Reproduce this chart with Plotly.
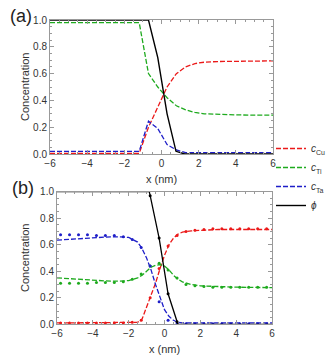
import plotly.graph_objects as go

# panel (a) simulated profiles
xa = [-6, -1.2, -0.7, -0.2, 0.3, 0.8, 1.3, 1.8, 2.3, 3.0, 4.0, 5.0, 6]
cu_a = [0.005, 0.005, 0.2, 0.35, 0.5, 0.6, 0.65, 0.675, 0.685, 0.69, 0.693, 0.695, 0.695]
ti_a = [0.98, 0.98, 0.6, 0.5, 0.42, 0.36, 0.33, 0.31, 0.3, 0.295, 0.292, 0.29, 0.29]
ta_a = [0.02, 0.02, 0.245, 0.19, 0.07, 0.03, 0.01, 0.01, 0.01, 0.01, 0.01, 0.01, 0.01]
xa_phi = [-6, -0.7, -0.2, 0.3, 0.78, 1.25, 6]
phi_a = [1, 1, 0.72, 0.3, 0.02, 0, 0]

# panel (b) fitted curves
xb = [-6, -5, -4, -3, -2.5, -2, -1.5, -1.25, -1, -0.75, -0.5, -0.25, 0,
      0.25, 0.5, 0.75, 1, 1.5, 2, 3, 4, 5, 6]
cu_b = [0.01, 0.01, 0.01, 0.01, 0.01, 0.01, 0.015, 0.04, 0.13, 0.22, 0.31, 0.42, 0.52,
        0.6, 0.65, 0.68, 0.695, 0.705, 0.71, 0.715, 0.715, 0.715, 0.715]
ti_b = [0.35, 0.34, 0.33, 0.325, 0.325, 0.33, 0.35, 0.37, 0.4, 0.43, 0.445, 0.45, 0.44,
        0.41, 0.37, 0.34, 0.32, 0.3, 0.29, 0.283, 0.28, 0.278, 0.277]
ta_b = [0.635, 0.645, 0.655, 0.66, 0.66, 0.655, 0.62, 0.57, 0.5, 0.41, 0.3, 0.2, 0.11,
        0.06, 0.03, 0.015, 0.01, 0.01, 0.01, 0.01, 0.01, 0.01, 0.01]

# panel (b) measured points
xd = [-5.8, -5.3, -4.8, -4.3, -3.8, -3.3, -2.8, -2.3, -1.8, -1.3, -0.8, -0.3,
      0.2, 0.7, 1.2, 1.7, 2.2, 2.7, 3.2, 3.7, 4.2, 4.7, 5.2, 5.7]
cu_d = [0.01, 0.01, 0.01, 0.01, 0.01, 0.01, 0.01, 0.01, 0.015, 0.03, 0.2, 0.42,
        0.59, 0.67, 0.7, 0.71, 0.715, 0.72, 0.72, 0.72, 0.72, 0.72, 0.72, 0.72]
ti_d = [0.31, 0.31, 0.31, 0.31, 0.315, 0.315, 0.315, 0.32, 0.34, 0.38, 0.44, 0.46,
        0.41, 0.35, 0.3, 0.29, 0.285, 0.28, 0.28, 0.28, 0.28, 0.28, 0.28, 0.28]
ta_d = [0.675, 0.675, 0.675, 0.675, 0.67, 0.67, 0.67, 0.66, 0.64, 0.58, 0.44, 0.17,
        0.03, 0.01, 0.005, 0.005, 0.005, 0.005, 0.005, 0.005, 0.005, 0.005, 0.005, 0.005]
xb_phi = [-6, -0.85, -0.8, -0.3, 0.2, 0.7, 0.75, 6]
phi_b = [1, 1, 0.97, 0.65, 0.23, 0.02, 0, 0]
xd_phi = [-0.8, -0.3, 0.2, 0.7]
phi_d = [0.97, 0.65, 0.23, 0.02]

RED = "rgb(235,25,25)"
GREEN = "rgb(30,170,30)"
BLUE = "rgb(30,30,200)"
DASH = "5px,2px"

fig = go.Figure()

names = ["<i>c</i><sub>Cu</sub>", "<i>c</i><sub>Ti</sub>", "<i>c</i><sub>Ta</sub>"]
for ys, col, nm in zip([cu_a, ti_a, ta_a], [RED, GREEN, BLUE], names):
    fig.add_trace(go.Scatter(x=xa, y=ys, mode="lines", name=nm,
                             line=dict(color=col, width=1.3, dash=DASH),
                             xaxis="x", yaxis="y"))
fig.add_trace(go.Scatter(x=xa_phi, y=phi_a, mode="lines", name="<i>ϕ</i>",
                         line=dict(color="black", width=1.4), xaxis="x", yaxis="y"))

for ys, col in zip([cu_b, ti_b, ta_b], [RED, GREEN, BLUE]):
    fig.add_trace(go.Scatter(x=xb, y=ys, mode="lines", showlegend=False,
                             line=dict(color=col, width=1.3, dash=DASH),
                             xaxis="x2", yaxis="y2"))
for ys, col in zip([cu_d, ti_d, ta_d], [RED, GREEN, BLUE]):
    fig.add_trace(go.Scatter(x=xd, y=ys, mode="markers", showlegend=False,
                             marker=dict(color=col, size=3),
                             xaxis="x2", yaxis="y2"))
fig.add_trace(go.Scatter(x=xb_phi, y=phi_b, mode="lines", showlegend=False,
                         line=dict(color="black", width=1.3), xaxis="x2", yaxis="y2"))
fig.add_trace(go.Scatter(x=xd_phi, y=phi_d, mode="markers", showlegend=False,
                         marker=dict(color="black", size=3), xaxis="x2", yaxis="y2"))

W, H = 331, 359
FONT = "Arial, Liberation Sans, sans-serif"

def xax(dom, anchor):
    return dict(domain=dom, anchor=anchor, range=[-6, 6], dtick=2, tickformat="d",
                showgrid=False, zeroline=False, showline=True, linecolor="#999",
                linewidth=1, mirror="allticks", ticks="inside", ticklen=4,
                tickcolor="#999", minor=dict(ticks="inside", ticklen=2, dtick=0.5,
                                             tickcolor="#999"),
                tickfont=dict(size=10, color="#333"), automargin=False,
                title=dict(text="x (nm)", font=dict(size=11, color="#333"), standoff=7))

def yax(dom, anchor):
    return dict(domain=dom, anchor=anchor, range=[0, 1], dtick=0.2, tickformat=".1f",
                showgrid=False, zeroline=False, showline=True, linecolor="#999",
                linewidth=1, mirror="allticks", ticks="inside", ticklen=4,
                tickcolor="#999", minor=dict(ticks="inside", ticklen=2, dtick=0.05,
                                             tickcolor="#999"),
                tickfont=dict(size=10, color="#333"), automargin=False)

ya_dom = [1 - 154 / H, 1 - 20 / H]
yb_dom = [1 - 324.3 / H, 1 - 191.7 / H]

def ytitle(dom):
    # y titles placed as rotated annotations so they sit close to the tick labels
    return dict(text="Concentration", x=25 / W, y=(dom[0] + dom[1]) / 2,
                xref="paper", yref="paper", textangle=-90, showarrow=False,
                xanchor="center", yanchor="middle", font=dict(size=11, color="#333"))

fig.update_layout(
    width=W, height=H,
    margin=dict(l=0, r=0, t=0, b=0, autoexpand=False),
    paper_bgcolor="white", plot_bgcolor="white",
    font=dict(family=FONT),
    xaxis=xax([50 / W, 273 / W], "y"),
    yaxis=yax(ya_dom, "x"),
    xaxis2=xax([57 / W, 272 / W], "y2"),
    yaxis2=yax(yb_dom, "x2"),
    legend=dict(x=271 / W, y=1 - 134 / H, xanchor="left", yanchor="top",
                font=dict(size=10, color="#333"), bgcolor="rgba(0,0,0,0)",
                itemwidth=30, tracegroupgap=0),
    annotations=[
        dict(text="(a)", x=8 / W, y=1 - 4 / H, xref="paper", yref="paper",
             xanchor="left", yanchor="top", showarrow=False,
             font=dict(size=18, color="#222")),
        dict(text="(b)", x=10 / W, y=1 - 176 / H, xref="paper", yref="paper",
             xanchor="left", yanchor="top", showarrow=False,
             font=dict(size=18, color="#222")),
        ytitle(ya_dom),
        ytitle(yb_dom),
    ],
)

# drop the page's default body margin so the figure sits at the window's corner
fig.write_html("out.html", config={"displayModeBar": False},
               post_script="document.body.style.margin='0';document.body.style.overflow='hidden';")
